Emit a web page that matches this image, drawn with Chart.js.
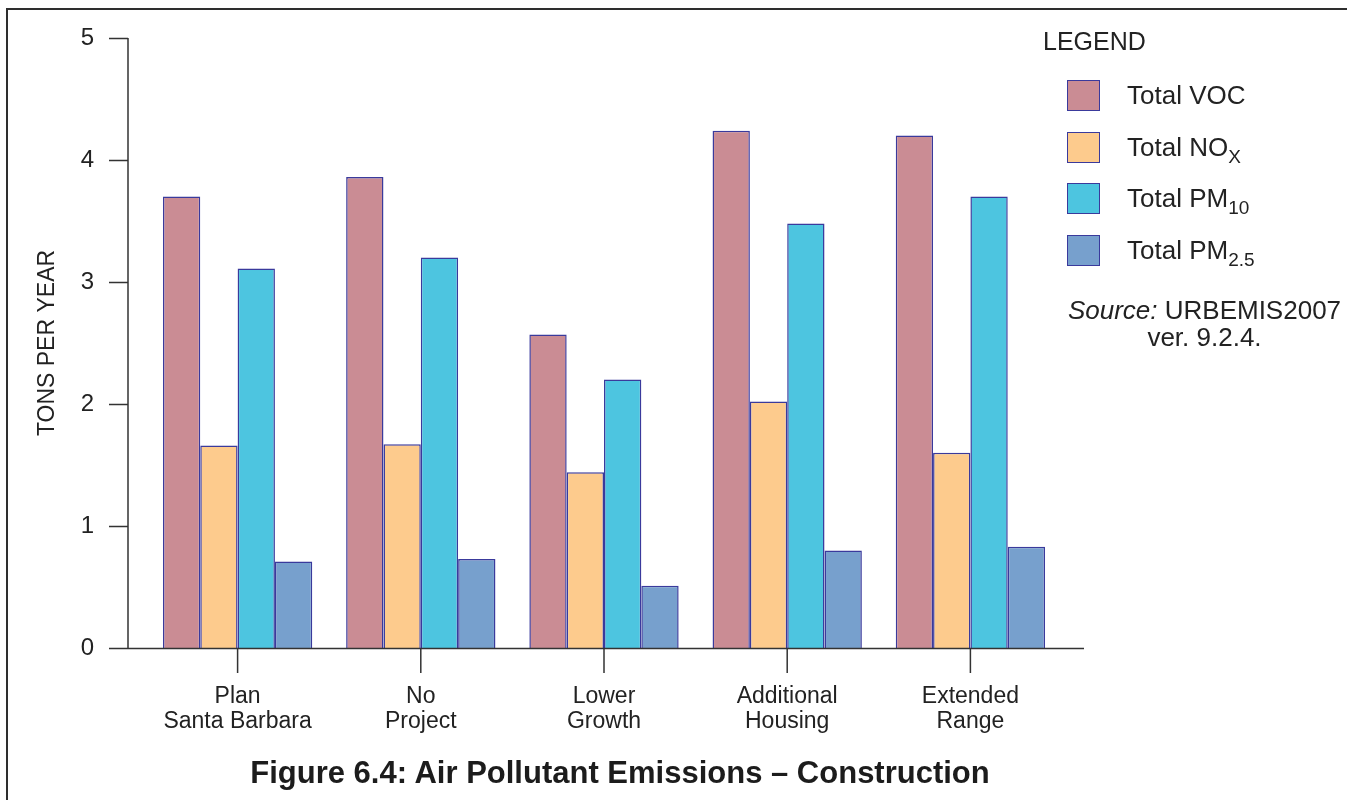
<!DOCTYPE html>
<html>
<head>
<meta charset="utf-8">
<title>Figure 6.4: Air Pollutant Emissions – Construction</title>
<script src="https://cdn.jsdelivr.net/npm/chart.js@4"></script>
<style>
  html, body { margin: 0; padding: 0; background: #fff; }
  body { width: 1347px; height: 800px; position: relative; overflow: hidden;
         font-family: "Liberation Sans", Arial, sans-serif; color: #222; }
  #frame { position: absolute; left: 6px; top: 8px; right: 0; bottom: -10px;
           border-top: 2px solid #2e2e2e; border-left: 2px solid #2e2e2e; }
  #chart { position: absolute; left: 0; top: 0; }
  #legendTitle { position: absolute; left: 1043px; top: 27px; font-size: 25px; }
  .item { position: absolute; left: 1067px; height: 31px; }
  .swatch { position: absolute; left: 0; top: 0; width: 31px; height: 29px;
            border: 1.5px solid #3a3a9c; }
  .label { position: absolute; left: 60px; top: 0; line-height: 31px; font-size: 26px; white-space: nowrap; }
  .label sub { font-size: 19px; vertical-align: -7px; line-height: 0; }
  #source { position: absolute; left: 1062px; top: 297px; width: 285px; text-align: center;
            font-size: 26px; line-height: 27px; }
  #title { position: absolute; left: 0; width: 1240px; top: 755px; text-align: center;
           font-weight: bold; font-size: 31px; color: #1c1c1c; }
</style>
</head>
<body>
<div id="frame"></div>
<canvas id="chart" width="1347" height="800"></canvas>
<div id="legendTitle">LEGEND</div>
<div id="legend"></div>
<div id="source"><i>Source:</i> URBEMIS2007<br>ver. 9.2.4.</div>
<div id="title">Figure 6.4: Air Pollutant Emissions – Construction</div>
<script>
// categories (two-line tick labels)
const categories = [
  ["Plan", "Santa Barbara"],
  ["No", "Project"],
  ["Lower", "Growth"],
  ["Additional", "Housing"],
  ["Extended", "Range"]
];

// tons per year
const vocValues  = [3.70, 3.86, 2.57, 4.24, 4.20];
const noxValues  = [1.66, 1.67, 1.44, 2.02, 1.60];
const pm10Values = [3.11, 3.20, 2.20, 3.48, 3.70];
const pm25Values = [0.71, 0.73, 0.51, 0.80, 0.83];

const seriesNames = ["Total VOC", "Total NO", "Total PM", "Total PM"];
const seriesSubs  = ["", "X", "10", "2.5"];
const seriesColors = ["#ca8c94", "#fdcb8d", "#4dc5e0", "#77a0cd"];

const yTicks = [0, 1, 2, 3, 4, 5];
const yTitle = "TONS PER YEAR";

const edgeColor = "#3a3a9c";
const axisColor = "#333";

// legend (html, so the subscripts stay real text)
const legendDiv = document.getElementById("legend");
seriesNames.forEach((name, i) => {
  const item = document.createElement("div");
  item.className = "item";
  item.style.top = (80 + i * 51.7) + "px";
  const sw = document.createElement("div");
  sw.className = "swatch";
  sw.style.background = seriesColors[i];
  const lb = document.createElement("div");
  lb.className = "label";
  lb.textContent = name;
  if (seriesSubs[i]) {
    const s = document.createElement("sub");
    s.textContent = seriesSubs[i];
    lb.appendChild(s);
  }
  item.appendChild(sw);
  item.appendChild(lb);
  legendDiv.appendChild(item);
});

// axis lines sit a little left of / beyond the plot area, like the original
const axisLines = {
  id: "axisLines",
  afterDraw(chart) {
    const { ctx, chartArea, scales } = chart;
    const x = scales.x, y = scales.y;
    const axisX = chartArea.left - 18;
    const tickLeft = chartArea.left - 37;
    const y0 = y.getPixelForValue(0);
    ctx.save();
    ctx.strokeStyle = axisColor;
    ctx.lineWidth = 1.5;
    ctx.beginPath();
    ctx.moveTo(axisX, y.getPixelForValue(yTicks[yTicks.length - 1]));
    ctx.lineTo(axisX, y0);
    yTicks.forEach(v => {
      const py = Math.round(y.getPixelForValue(v)) + 0.5;
      ctx.moveTo(tickLeft, py);
      ctx.lineTo(axisX, py);
    });
    ctx.moveTo(tickLeft, Math.round(y0) + 0.5);
    ctx.lineTo(chartArea.right + 22, Math.round(y0) + 0.5);
    categories.forEach((c, i) => {
      const px = x.getPixelForValue(i);
      ctx.moveTo(px, y0);
      ctx.lineTo(px, y0 + 25);
    });
    ctx.stroke();
    ctx.restore();
  }
};

const values = [vocValues, noxValues, pm10Values, pm25Values];

new Chart(document.getElementById("chart"), {
  type: "bar",
  data: {
    labels: categories,
    datasets: values.map((v, i) => ({
      label: seriesNames[i] + seriesSubs[i],
      data: v,
      backgroundColor: seriesColors[i],
      borderColor: edgeColor,
      borderWidth: 1.5,
      borderSkipped: "bottom",
      barPercentage: 1.0,
      categoryPercentage: 0.815
    }))
  },
  options: {
    responsive: false,
    animation: false,
    layout: { padding: { top: 38, right: 285, bottom: 52, left: 0 } },
    plugins: {
      legend: { display: false },
      tooltip: { enabled: false },
      title: { display: false }
    },
    scales: {
      x: {
        grid: { display: false, drawTicks: false },
        border: { display: false },
        ticks: {
          color: "#222",
          padding: 36,
          maxRotation: 0,
          autoSkip: false,
          font: { family: "Liberation Sans", size: 23, lineHeight: 1.1 }
        },
        afterFit(s) { s.height = 100; }
      },
      y: {
        min: 0,
        max: 5,
        grid: { display: false, drawTicks: false },
        border: { display: false },
        ticks: {
          stepSize: 1,
          color: "#222",
          padding: 52,
          font: { family: "Liberation Sans", size: 24 }
        },
        title: {
          display: true,
          text: yTitle,
          color: "#222",
          padding: { top: 34, bottom: 0 },
          font: { family: "Liberation Sans", size: 23 }
        },
        afterFit(s) {
          s.width = 146;
          // the big label padding should not push the plot down
          s.paddingTop = 14;
          s.paddingBottom = 14;
        }
      }
    }
  },
  plugins: [axisLines]
});
</script>
</body>
</html>
